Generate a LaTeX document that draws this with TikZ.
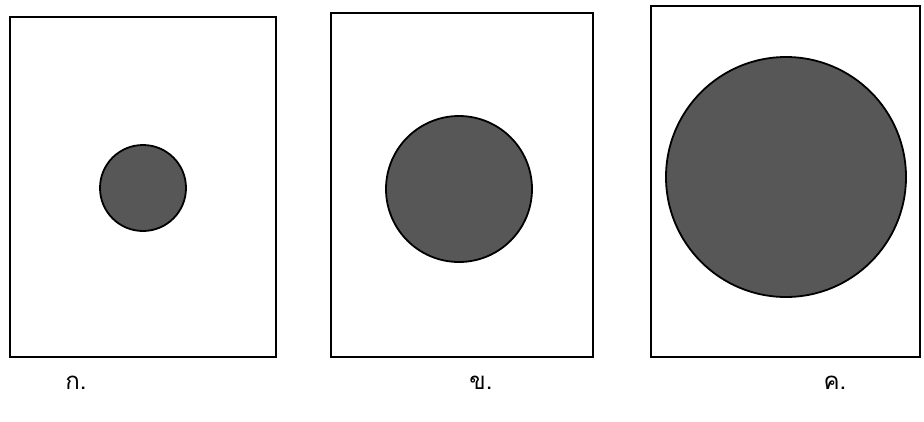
\documentclass[tikz,border=0pt]{standalone}
\usepackage{fontspec}
\newfontfamily\thaifont[Script=Thai]{Loma}
\definecolor{disc}{HTML}{575757}
\tikzset{
  frame/.style={draw=black, line width=2.3pt},
  dot/.style={fill=disc, draw=black, line width=1.8pt},
  lbl/.style={font=\thaifont\fontsize{24}{28}\selectfont, inner sep=0pt}
}
\begin{document}
\begin{tikzpicture}[x=1pt,y=-1pt]
\useasboundingbox (0,0) rectangle (924,421);
\fill[white] (0,0) rectangle (924,421);
% panel A
\draw[frame] (10,17) rectangle (276,357);
\draw[dot] (143,188) circle (43);
% panel B
\draw[frame] (331,13) rectangle (593,357);
\draw[dot] (459,189) circle (73);
% panel C
\draw[frame] (651,6) rectangle (920,357);
\draw[dot] (786,177) circle (120);
% labels
\node[lbl] (la) at (76,383) {ก.};
\node[lbl] (lb) at (481,383) {ข.};
\node[lbl] (lc) at (835,383) {ค.};
\end{tikzpicture}
\end{document}
